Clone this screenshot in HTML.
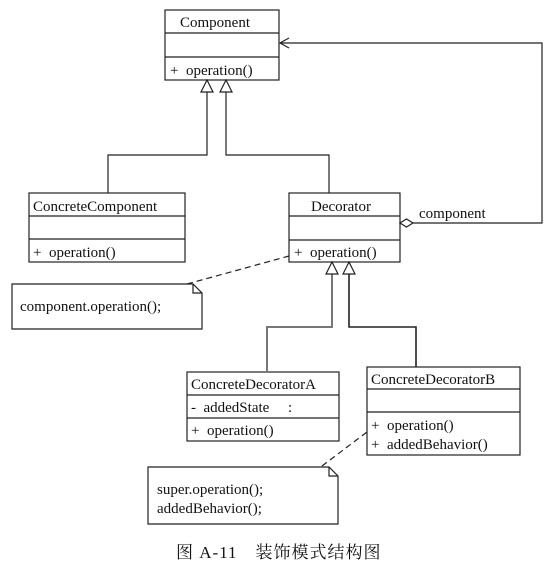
<!DOCTYPE html>
<html><head><meta charset="utf-8"><style>
html,body{margin:0;padding:0;background:#fff;width:558px;height:585px;overflow:hidden}
svg text{font-family:"Liberation Serif","Noto Serif CJK SC",serif;font-size:15px;fill:#111}
</style></head><body>
<svg width="558" height="585" viewBox="0 0 558 585" xmlns="http://www.w3.org/2000/svg">
<g fill="none" stroke="#222" stroke-width="1.2">
<rect x="165" y="10" width="114" height="70"/>
<line x1="165" y1="33" x2="279" y2="33"/><line x1="165" y1="57" x2="279" y2="57"/>
<rect x="29" y="193" width="156" height="69"/>
<line x1="29" y1="216" x2="185" y2="216"/><line x1="29" y1="239" x2="185" y2="239"/>
<rect x="289" y="193" width="111" height="69"/>
<line x1="289" y1="216" x2="400" y2="216"/><line x1="289" y1="240" x2="400" y2="240"/>
<rect x="187" y="372" width="152" height="69"/>
<line x1="187" y1="395" x2="339" y2="395"/><line x1="187" y1="418" x2="339" y2="418"/>
<rect x="367" y="367" width="153" height="88"/>
<line x1="367" y1="389" x2="520" y2="389"/><line x1="367" y1="412" x2="520" y2="412"/>
<polyline points="207,92 207,155 108,155 108,193"/>
<polyline points="226,92 226,155 329,155 329,193"/>
<polygon points="207,80 201,92 213,92" fill="#fff"/>
<polygon points="226,80 220,92 232,92" fill="#fff"/>
<polyline points="332,274 332,327 267,327 267,372" stroke="#777" stroke-width="2"/>
<polyline points="349,274 349,327 416,327 416,367" stroke-width="1.6"/>
<polygon points="332,262 326,274 338,274" fill="#fff"/>
<polygon points="349,262 343,274 355,274" fill="#fff"/>
<polygon points="400,223 406.5,219 413,223 406.5,227" fill="#fff"/>
<polyline points="413,223 542,223 542,43 280,43"/>
<polyline points="289,38 280,43 289,48"/>
<polygon points="12,284 193,284 202,293 202,329 12,329" fill="#fff"/>
<polyline points="193,284 193,293 202,293"/>
<line x1="187" y1="284" x2="289" y2="256" stroke-dasharray="6,4"/>
<polygon points="148,467 329,467 338,476 338,524 148,524" fill="#fff"/>
<polyline points="329,467 329,476 338,476"/>
<line x1="322" y1="466" x2="367" y2="432" stroke-dasharray="6,4"/>
</g>
<text x="180" y="27">Component</text>
<text x="170" y="75">+&#160; operation()</text>
<text x="33" y="211">ConcreteComponent</text>
<text x="33" y="257">+&#160; operation()</text>
<text x="311" y="211">Decorator</text>
<text x="294" y="257">+&#160; operation()</text>
<text x="419" y="218">component</text>
<text x="20" y="311">component.operation();</text>
<text x="191" y="389">ConcreteDecoratorA</text>
<text x="191" y="412">-&#160; addedState&#160;&#160;&#160;&#160; :</text>
<text x="191" y="435">+&#160; operation()</text>
<text x="371" y="384">ConcreteDecoratorB</text>
<text x="371" y="430">+&#160; operation()</text>
<text x="371" y="449">+&#160; addedBehavior()</text>
<text x="157" y="494">super.operation();</text>
<text x="157" y="513">addedBehavior();</text>
<text x="176" y="558" style="font-size:17px;letter-spacing:1px">图 A-11　装饰模式结构图</text>
</svg>
</body></html>
